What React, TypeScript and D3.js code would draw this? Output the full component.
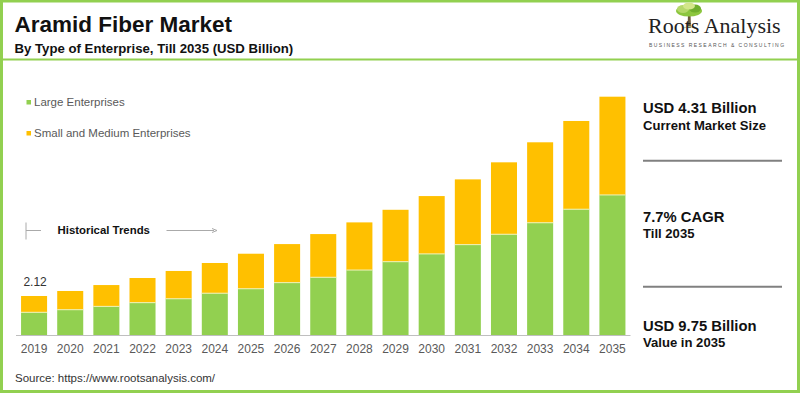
import React from "react";
import * as d3 from "d3";

const years = ["2019","2020","2021","2022","2023","2024","2025","2026","2027","2028","2029","2030","2031","2032","2033","2034","2035"];
const largeEnterprises = [1.24,1.38,1.56,1.76,1.97,2.27,2.51,2.84,3.13,3.52,3.97,4.39,4.89,5.45,6.07,6.80,7.57];
const smallMedium = [0.88,1.01,1.15,1.33,1.50,1.63,1.89,2.08,2.33,2.57,2.80,3.12,3.52,3.88,4.34,4.76,5.30];
const seriesNames = ["Large Enterprises", "Small and Medium Enterprises"];
const firstLabel = "2.12";

const W = 800, H = 393;
const GREEN = "#92D050";
const ORANGE = "#FFC000";
const FONT = "'Liberation Sans', Arial, sans-serif";

export default function App() {
  const x = d3.scaleBand<string>().domain(years).range([16, 630.5]).paddingInner(0.28).paddingOuter(0.14);
  const y = d3.scaleLinear().domain([0, 13]).range([335.3, 335.3 - 13 * 18.54]);
  const data = years.map((yr, i) => ({ year: yr, large: largeEnterprises[i], sme: smallMedium[i] }));
  const stack = d3.stack<any>().keys(["large", "sme"])(data as any);
  const colors = [GREEN, ORANGE];

  return (
    <svg width={W} height={H} style={{ position: "absolute", left: 0, top: 0, background: "#fff" }} fontFamily={FONT}>
      <rect x={0} y={0} width={W} height={H} fill="#fff" />
      {/* frame */}
      <rect x={1.5} y={1} width={W - 3} height={H - 2.5} fill="none" stroke={GREEN} strokeWidth={3} />
      <line x1={3} x2={797} y1={59.5} y2={59.5} stroke={GREEN} strokeWidth={2} />

      {/* title */}
      <text x={14.5} y={32} fontSize={22.5} fontWeight="bold" fill="#111">Aramid Fiber Market</text>
      <text x={14.5} y={53.3} fontSize={13.2} fontWeight="bold" fill="#111">By Type of Enterprise, Till 2035 (USD Billion)</text>

      {/* logo */}
      <g>
        <path d="M688,14 L690.5,14 L691,28 L687.5,28 Z" fill="#6b5a3a" />
        <path d="M683,28 Q689,25 695,28" fill="none" stroke="#b9c9a0" strokeWidth={1} />
        <ellipse cx={689} cy={11} rx={13} ry={5.5} fill="#8cc63f" />
        <ellipse cx={683} cy={9} rx={6} ry={4} fill="#b5d86a" />
        <ellipse cx={695} cy={8.5} rx={6} ry={4} fill="#6fae2e" />
        <ellipse cx={689} cy={6} rx={6} ry={3.5} fill="#d3e68a" />
        <text x={648} y={33} fontSize={22} fontFamily="'Liberation Serif', 'Times New Roman', serif" fill="#222">Roots Analysis</text>
        <text x={649} y={46.5} fontSize={5} letterSpacing={1.45} fill="#555">BUSINESS RESEARCH &amp; CONSULTING</text>
      </g>

      {/* legend */}
      {seriesNames.map((n, i) => (
        <g key={n}>
          <rect x={26.5} y={(i === 0 ? 100 : 131)} width={4.5} height={4.5} fill={colors[i]} />
          <text x={34} y={(i === 0 ? 102.3 : 132.8)} dy="0.35em" fontSize={11.5} fill="#595959">{n}</text>
        </g>
      ))}

      {/* historical trends */}
      <line x1={26} x2={26} y1={222.5} y2={239.5} stroke="#aaa" strokeWidth={1} />
      <line x1={26} x2={41} y1={230.5} y2={230.5} stroke="#aaa" strokeWidth={1} />
      <text x={57.5} y={230.5} dy="0.35em" fontSize={11.4} fontWeight="bold" fill="#111">Historical Trends</text>
      <line x1={166.5} x2={214} y1={230.5} y2={230.5} stroke="#aaa" strokeWidth={1} />
      <path d="M212,228.5 L217,230.5 L212,232.5" fill="none" stroke="#aaa" strokeWidth={1} />

      {/* bars */}
      {stack.map((s, si) => (
        <g key={si} fill={colors[si]}>
          {s.map((d: any, i: number) => (
            <rect key={i} x={x(years[i])} y={y(d[1])} width={x.bandwidth()} height={y(d[0]) - y(d[1])} />
          ))}
        </g>
      ))}
      {stack[0].map((d: any, i: number) => (
        <line key={i} x1={x(years[i])} x2={(x(years[i]) as number) + x.bandwidth()} y1={y(d[1])} y2={y(d[1])} stroke="#eef2b8" strokeWidth={1} />
      ))}

      {/* axis */}
      <line x1={16} x2={630.5} y1={335.5} y2={335.5} stroke="#bfbfbf" strokeWidth={1} />
      {years.map((yr) => (
        <text key={yr} x={(x(yr) as number) + x.bandwidth() / 2} y={348.5} dy="0.35em" textAnchor="middle" fontSize={12} fill="#595959">{yr}</text>
      ))}

      {/* first value label */}
      <text x={(x(years[0]) as number) + x.bandwidth() / 2 + 1} y={y(largeEnterprises[0] + smallMedium[0]) - 14} dy="0.35em" textAnchor="middle" fontSize={12} fill="#333">{firstLabel}</text>

      {/* right panel */}
      <text x={643} y={113} fontSize={14.8} fontWeight="bold" fill="#111">USD 4.31 Billion</text>
      <text x={643} y={130} fontSize={13.1} fontWeight="bold" fill="#111">Current Market Size</text>
      <line x1={643} x2={782} y1={160.7} y2={160.7} stroke="#808080" strokeWidth={2} />
      <text x={643} y={221.7} fontSize={14.8} fontWeight="bold" fill="#111">7.7% CAGR</text>
      <text x={643} y={237.5} fontSize={13.1} fontWeight="bold" fill="#111">Till 2035</text>
      <line x1={643} x2={782} y1={286.7} y2={286.7} stroke="#808080" strokeWidth={2} />
      <text x={643} y={330.7} fontSize={14.8} fontWeight="bold" fill="#111">USD 9.75 Billion</text>
      <text x={643} y={346.5} fontSize={13.1} fontWeight="bold" fill="#111">Value in 2035</text>

      {/* source */}
      <text x={15} y={378} dy="0.35em" fontSize={11.5} fill="#333">Source: https://www.rootsanalysis.com/</text>
    </svg>
  );
}
